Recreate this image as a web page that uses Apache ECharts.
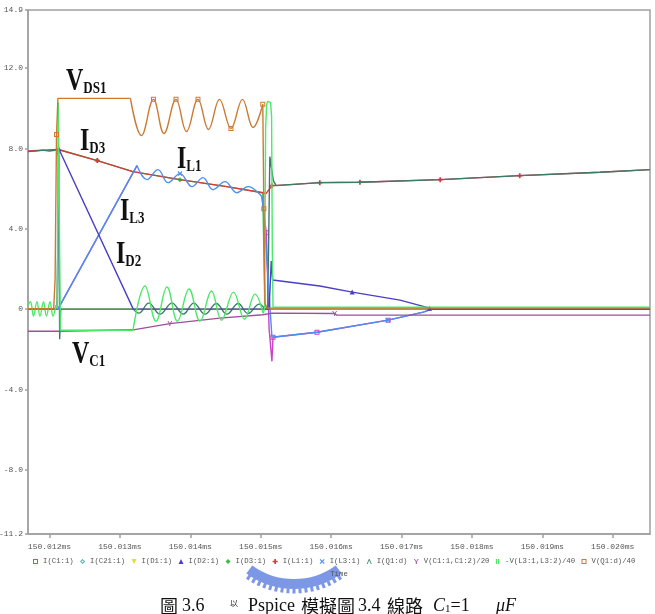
<!DOCTYPE html>
<html>
<head>
<meta charset="utf-8">
<script src="https://cdn.jsdelivr.net/npm/echarts@6/dist/echarts.min.js"></script>
<style>
html, body { margin: 0; padding: 0; background: #fff; }
#chart { width: 655px; height: 614px; }
</style>
</head>
<body>
<div id="chart"></div>
<script>
// time axis: ns after 150.012 ms
const timeTicks = [0, 1, 2, 3, 4, 5, 6, 7, 8];
const yTicks = [-11.2, -8, -4, 0, 4, 8, 12, 14.9];

// V(Q1:d)/40
const vdsStep = [[-0.305, 0.02], [0.06, 0.02], [0.08, 1.5], [0.1, 8.7], [0.12, 10.5], [1.15, 10.5]];
const vdsRing = [[1.15, 10.5], [1.307, 8.65], [1.477, 10.45], [1.626, 8.75], [1.797, 10.45], [1.946, 8.85],
    [2.109, 10.45], [2.259, 8.95], [2.415, 10.45], [2.578, 9.0], [2.741, 10.45], [2.891, 9.05], [3.03, 10.2]];
const vdsFall = [[3.03, 10.2], [3.045, 5], [3.06, 0.3], [3.09, 0.05], [8.53, 0.05]];

// I(L1:1)
const l1Vals = [[-0.305, 7.88], [0.12, 7.95], [0.68, 7.4], [1.185, 6.85], [1.853, 6.45], [2.52, 6.1], [3.03, 5.8],
    [3.075, 5.75], [3.16, 6.15], [3.416, 6.2], [3.84, 6.3], [4.41, 6.32], [5.55, 6.45], [6.68, 6.65], [7.82, 6.82], [8.53, 6.95]];

// I(Q1:d)
const q1Off = [[-0.305, 7.85], [-0.2, 7.87], [-0.1, 7.92], [0.0, 7.88], [0.1, 7.93], [0.12, 7.95], [0.13, 7.6],
    [0.145, -1.5], [0.16, 0], [1.19, 0]];
const q1Ring = [[1.19, 0], [1.27, -0.2], [1.41, 0.3], [1.57, -0.25], [1.74, 0.3], [1.9, -0.25], [2.05, 0.3],
    [2.21, -0.25], [2.37, 0.28], [2.52, -0.25], [2.68, 0.28], [2.82, -0.22], [2.98, 0.25], [3.06, 0]];
const q1On = [[3.06, 0], [3.1, 0], [3.13, 7.6], [3.18, 6.4], [3.22, 6.15], [3.416, 6.2], [3.84, 6.3], [4.41, 6.32],
    [5.55, 6.45], [6.68, 6.65], [7.82, 6.82], [8.53, 6.95]];

// I(C21:1), I(D1:1)
const c21Vals = [[-0.305, 0], [8.53, 0]];
const d1Vals = [[-0.305, 0], [8.53, 0]];

// I(D3:1)
const d3Vals = [[-0.305, 0], [0.11, 0], [0.13, 7.95], [0.68, 7.4], [1.185, 6.85], [1.853, 6.45], [2.52, 6.1],
    [3.03, 5.8], [3.06, 0], [8.53, 0]];

// I(D2:1)
const d2Vals = [[-0.305, 0], [0.11, 0], [0.13, 8.0], [1.19, 0], [3.12, 0], [3.15, 2.4], [3.17, 1.45], [3.84, 1.15],
    [4.3, 0.85], [4.98, 0.45], [5.4, 0.05], [5.45, 0], [8.53, 0]];

// I(L3:1)
const l3Rise = [[-0.305, 0], [0.12, 0], [1.243, 7.15]];
const l3Ring = [[1.243, 7.15], [1.385, 6.45], [1.541, 6.95], [1.683, 6.3], [1.854, 6.75], [2.024, 6.1], [2.18, 6.55],
    [2.322, 5.95], [2.493, 6.35], [2.663, 5.8], [2.82, 6.1], [3.018, 5.6]];
const l3Fall = [[3.018, 5.6], [3.05, 4.5], [3.16, -1.4], [3.8, -1.15], [4.81, -0.55], [5.31, -0.15], [5.43, 0], [8.53, 0]];

// I(C1:1)
const c1Vals = [[-0.305, 0], [0.12, 0], [1.243, 7.15], '-', [3.018, 5.6], [3.08, 3.8], [3.12, -1.0], [3.16, -2.6],
    [3.175, -1.4], [3.8, -1.15], [4.81, -0.55], [5.31, -0.15], [5.43, 0], [8.53, 0]];

// V(C1:1,C1:2)/20
const vc1Vals = [[-0.305, -1.1], [0.12, -1.1], [1.19, -1.03], [1.71, -0.72], [2.42, -0.45], [3.03, -0.28],
    [3.16, -0.2], [4.05, -0.22], [4.08, -0.3], [8.53, -0.3]];

// -V(L3:1,L3:2)/40
const vl3Pre = [[-0.305, 0.2], [-0.27, 0.37], [-0.227, -0.35], [-0.178, 0.37], [-0.135, -0.35], [-0.085, 0.37],
    [-0.043, -0.35], [0.007, 0.37], [0.05, -0.35], [0.092, 0.2]];
const vl3Spike = [[0.092, 0.2], [0.11, 0], [0.125, 10.3], [0.14, 10.3], [0.155, -1.05], [1.186, -1.05]];
const vl3Ring = [[1.186, -1.05], [1.357, 1.15], [1.513, -0.6], [1.669, 1.1], [1.818, -0.6], [1.982, 1.0],
    [2.138, -0.6], [2.301, 0.9], [2.443, -0.55], [2.614, 0.85], [2.77, -0.5], [2.919, 0.75], [3.033, -0.2]];
const vl3On = [[3.033, -0.2], [3.055, 0], [3.07, 9.0], [3.085, 10.2], [3.1, 10.35], [3.14, 10.3], [3.155, 9.6],
    [3.165, 3], [3.175, 0.1], [8.53, 0.1]];

const names = ['I(C1:1)', 'I(C21:1)', 'I(D1:1)', 'I(D2:1)', 'I(D3:1)', 'I(L1:1)', 'I(L3:1)', 'I(Q1:d)',
    'V(C1:1,C1:2)/20', '-V(L3:1,L3:2)/40', 'V(Q1:d)/40'];
const colors = {
    'I(C1:1)': '#cc40cc', 'I(C21:1)': '#30b0a8', 'I(D1:1)': '#e4dc30', 'I(D2:1)': '#4a3fc6',
    'I(D3:1)': '#3cbc3c', 'I(L1:1)': '#d83a3a', 'I(L3:1)': '#4a8ff0', 'I(Q1:d)': '#3b7b6b',
    'V(C1:1,C1:2)/20': '#9c4f9c', '-V(L3:1,L3:2)/40': '#4ce86a', 'V(Q1:d)/40': '#cc7a30'
};
const hollowSquare = 'path://M0,0H6V6H0ZM1.2,1.2V4.8H4.8V1.2Z';
const hollowDiamond = 'path://M3,0L6,3L3,6L0,3ZM3,1.4L1.4,3L3,4.6L4.6,3Z';
const icons = {
    'I(C1:1)': hollowSquare, 'I(C21:1)': hollowDiamond, 'I(D1:1)': 'path://M0,0L6,0L3,6Z',
    'I(D2:1)': 'triangle', 'I(D3:1)': 'diamond', 'I(L1:1)': 'path://M2,0H4V2H6V4H4V6H2V4H0V2H2Z',
    'I(L3:1)': 'path://M0,1L1,0L3,2L5,0L6,1L4,3L6,5L5,6L3,4L1,6L0,5L2,3Z',
    'I(Q1:d)': 'path://M0,6L2.6,0H3.4L6,6H5L3,1.5L1,6Z',
    'V(C1:1,C1:2)/20': 'path://M0,0H1.2L3,2.6L4.8,0H6L3.6,3.4V6H2.4V3.4Z',
    '-V(L3:1,L3:2)/40': 'path://M1,0H2.5V6H1ZM3.5,0H5V6H3.5Z', 'V(Q1:d)/40': hollowSquare
};

// marks: indices of the points that carry the trace marker
function line(name, data, smooth, z, marks) {
    marks = marks || [];
    return {
        name: name, type: 'line', data: data, smooth: smooth ? 0.4 : false,
        showSymbol: marks.length > 0, symbolSize: 5,
        symbol: (v, p) => (marks.indexOf(p.dataIndex) >= 0 ? icons[name] : 'none'),
        z: z, lineStyle: { color: colors[name], width: 1.4 }, itemStyle: { color: colors[name] },
        silent: true, animation: false
    };
}

const serif = 'Liberation Serif';
const cjk = 'Noto Sans CJK TC';

// caption pieces: text, left x, font
const caption = [
    ['圖', 160, cjk], ['3.6', 182, serif], ['Pspice', 248, serif], ['模擬圖', 301, cjk],
    ['3.4', 358, serif], ['線路', 387, cjk]
];

const chart = echarts.init(document.getElementById('chart'));

const option = {
    backgroundColor: '#fff',
    animation: false,
    grid: {
        left: 28, right: 5, top: 10, bottom: 80, show: true, borderColor: '#a0a0a0', borderWidth: 1.5,
        outerBoundsMode: 'none', containLabel: false
    },
    legend: {
        left: 28, top: 553, itemWidth: 5, itemHeight: 5, itemGap: 6.4, selectedMode: false,
        textStyle: { fontFamily: 'Liberation Mono', fontSize: 7.3, color: '#555' },
        data: names.map(n => ({ name: n, icon: icons[n], itemStyle: { color: colors[n], borderWidth: 0 } }))
    },
    xAxis: {
        type: 'value', min: -0.305, max: 8.53,
        name: 'Time', nameLocation: 'middle', nameGap: 37,
        nameTextStyle: { fontFamily: 'Liberation Mono', fontSize: 7.3, color: '#555' },
        axisLine: { show: true, onZero: false, lineStyle: { color: '#a0a0a0', width: 1.5 } },
        axisTick: { show: true, length: 4, customValues: timeTicks, lineStyle: { color: '#a0a0a0', width: 1.5 } },
        axisLabel: {
            customValues: timeTicks, margin: 9, color: '#555', fontFamily: 'Liberation Mono', fontSize: 8,
            formatter: v => (150.012 + v / 1000).toFixed(3) + 'ms'
        },
        splitLine: { show: false }
    },
    yAxis: {
        type: 'value', min: -11.2, max: 14.9,
        axisLine: { show: true, onZero: false, lineStyle: { color: '#a0a0a0', width: 1.5 } },
        axisTick: { show: true, length: 3, customValues: yTicks, lineStyle: { color: '#a0a0a0', width: 1.5 } },
        axisLabel: {
            customValues: yTicks, margin: 5, color: '#555', fontFamily: 'Liberation Mono', fontSize: 8,
            formatter: v => (v === 0 ? '0' : v.toFixed(1))
        },
        splitLine: { show: false }
    },
    series: [
        line('I(C21:1)', c21Vals, false, 1),
        line('I(D1:1)', d1Vals, false, 2),
        line('I(D3:1)', d3Vals, false, 3, [3, 5]),
        line('I(L1:1)', l1Vals, false, 4, [2, 8, 10, 11, 12, 13]),
        line('I(C1:1)', c1Vals, false, 5, [5, 8, 9, 10]),
        line('I(Q1:d)', q1Off, false, 6),
        line('I(Q1:d)', q1Ring, true, 6),
        line('I(Q1:d)', q1On, false, 6),
        line('I(L3:1)', l3Rise, false, 7),
        line('I(L3:1)', l3Ring, true, 7, [4]),
        line('I(L3:1)', l3Fall, false, 7, [4]),
        line('I(D2:1)', d2Vals, false, 8, [2, 8, 10]),
        line('V(C1:1,C1:2)/20', vc1Vals, false, 9, [3, 7]),
        line('-V(L3:1,L3:2)/40', vl3Pre, true, 10),
        line('-V(L3:1,L3:2)/40', vl3Spike, false, 10),
        line('-V(L3:1,L3:2)/40', vl3Ring, true, 10),
        line('-V(L3:1,L3:2)/40', vl3On, false, 10),
        line('V(Q1:d)/40', vdsStep, false, 11, [3]),
        line('V(Q1:d)/40', vdsRing, true, 11, [2, 4, 6, 9, 12]),
        line('V(Q1:d)/40', vdsFall, false, 11, [1])
    ],
    graphic: [
        { type: 'arc', silent: true, z: -1, shape: { cx: 294, cy: 508, r: 76, startAngle: Math.PI * 0.3, endAngle: Math.PI * 0.7 },
          style: { stroke: '#7b97e6', lineWidth: 10, fill: null } },
        { type: 'arc', silent: true, z: -1, shape: { cx: 294, cy: 508, r: 83, startAngle: Math.PI * 0.31, endAngle: Math.PI * 0.69 },
          style: { stroke: '#7b97e6', lineWidth: 5, fill: null, lineDash: [3, 3] } }
    ].concat([
        ['V', 'DS1', 66, 97],
        ['I', 'D3', 80, 157],
        ['I', 'L1', 177, 175],
        ['I', 'L3', 120, 227],
        ['I', 'D2', 116, 270],
        ['V', 'C1', 72, 370]
    ].map(t => ({
        type: 'text', x: t[2], y: t[3], scaleY: 1.28, z: 50, silent: true,
        style: {
            text: '{m|' + t[0] + '}{s|' + t[1] + '}', align: 'left', verticalAlign: 'bottom',
            rich: {
                m: { fontFamily: serif, fontWeight: 'bold', fontSize: 24, fill: '#111', verticalAlign: 'bottom' },
                s: { fontFamily: serif, fontWeight: 'bold', fontSize: 13, fill: '#111', verticalAlign: 'bottom' }
            }
        }
    }))).concat(caption.map(c => ({
        type: 'text', x: c[1], y: 606, silent: true,
        style: { text: c[0], fontFamily: c[2], fontSize: 18, fill: '#111', align: 'left', verticalAlign: 'middle' }
    }))).concat([
        { type: 'text', x: 230, y: 603, silent: true,
          style: { text: '以', fontFamily: cjk, fontSize: 8, fill: '#222', align: 'left', verticalAlign: 'middle' } },
        { type: 'text', x: 433, y: 606, silent: true,
          style: {
              text: '{i|C}{u|1}{a|=1}', align: 'left', verticalAlign: 'middle',
              rich: {
                  a: { fontFamily: serif, fontSize: 18, fill: '#111', verticalAlign: 'bottom' },
                  i: { fontFamily: serif, fontStyle: 'italic', fontSize: 18, fill: '#111', verticalAlign: 'bottom' },
                  u: { fontFamily: serif, fontSize: 11, fill: '#111', verticalAlign: 'bottom' }
              }
          } },
        { type: 'text', x: 496, y: 606, silent: true,
          style: { text: 'μF', fontFamily: serif, fontStyle: 'italic', fontSize: 18, fill: '#111', align: 'left', verticalAlign: 'middle' } }
    ])
};

chart.setOption(option);
</script>
</body>
</html>
